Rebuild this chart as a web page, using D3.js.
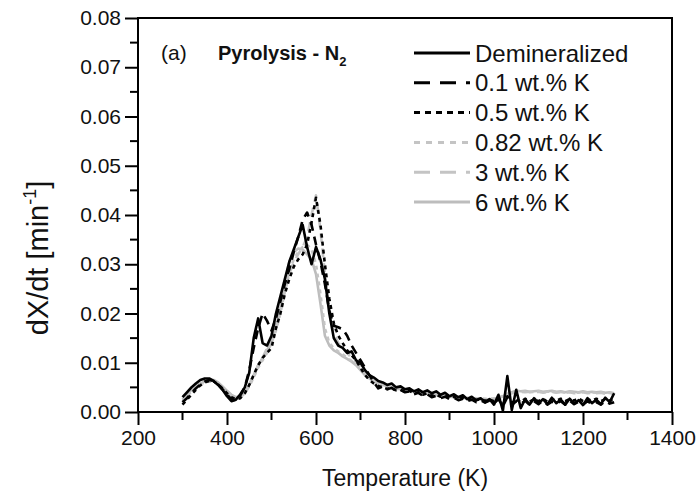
<!DOCTYPE html>
<html lang="en">
<head>
    <meta charset="UTF-8">
    <title>dX/dt - Pyrolysis N2</title>
    <script src="https://cdn.jsdelivr.net/npm/d3@7"></script>
    <style>
        body { margin: 0; background: #fff; }
        svg { display: block; font-family: "Liberation Sans", Arial, sans-serif; }
    </style>
</head>
<body>
    <svg width="697" height="502"></svg>
    <script>
        // temperature grid (K)
        var temps = [300, 310, 320, 330, 340, 350, 360, 370, 380, 390, 400, 410, 420, 430, 440, 450, 460, 470, 480, 490,
            500, 510, 520, 530, 540, 550, 560, 570, 580, 590, 600, 610, 620, 630, 640, 650, 660, 670, 680, 690,
            700, 710, 720, 730, 740, 750, 760, 770, 780, 790, 800, 810, 820, 830, 840, 850, 860, 870, 880, 890,
            900, 910, 920, 930, 940, 950, 960, 970, 980, 990, 1000, 1010, 1020, 1030, 1040, 1050, 1060, 1070, 1080, 1090,
            1100, 1110, 1120, 1130, 1140, 1150, 1160, 1170, 1180, 1190, 1200, 1210, 1220, 1230, 1240, 1250, 1260, 1270];

        // dX/dt values, in 1e-3 min^-1
        var demineralized = [3.0, 4.0, 5.0, 5.8, 6.5, 6.8, 6.8, 6.3, 5.5, 4.5, 3.2, 2.2, 2.5, 3.6, 5.0, 8.0, 15.0, 19.0, 14.0, 13.5,
            15.5, 20.0, 23.5, 27.0, 30.5, 33.0, 35.5, 38.0, 33.5, 30.0, 33.5, 31.0, 27.0, 20.0, 15.0, 13.5, 13.0, 12.0, 12.3, 10.5,
            10.0, 8.5, 7.5, 7.0, 6.3, 6.0, 5.5, 5.8, 5.0, 5.2, 4.6, 4.8, 4.2, 4.6, 4.0, 4.4, 3.8, 4.2, 3.5, 3.9,
            3.2, 3.6, 3.0, 3.4, 2.6, 3.1, 2.4, 2.8, 2.0, 2.6, 1.5, 3.5, 0.3, 7.3, 0.4, 4.5, 0.8, 2.6, 1.5, 2.8,
            1.8, 2.6, 1.6, 2.9, 1.8, 2.5, 1.5, 2.7, 1.7, 2.4, 1.4, 2.8, 1.8, 2.5, 1.6, 2.9, 2.0, 3.8];
        var k01 = [2.0, 2.8, 3.8, 4.8, 5.6, 6.2, 6.5, 6.3, 5.6, 4.6, 3.5, 2.6, 2.4, 3.4, 5.0, 8.5, 13.0, 17.0, 20.0, 18.5,
            16.5, 19.0, 22.5, 26.0, 29.0, 32.5, 35.5, 39.0, 40.5, 38.0, 34.0, 30.5, 26.0, 20.5, 17.5, 17.2, 16.8, 15.5, 13.5, 12.0,
            10.5, 9.0, 7.5, 6.0, 4.8, 5.2, 4.6, 4.9, 4.3, 4.5, 4.0, 4.2, 3.6, 3.9, 3.3, 3.6, 3.0, 3.3, 2.8, 3.1,
            2.6, 2.9, 2.4, 2.7, 2.2, 2.5, 2.0, 2.4, 1.9, 2.3, 1.8, 2.6, 1.2, 3.0, 1.4, 2.2, 1.6, 2.3, 1.5, 2.2,
            1.6, 2.3, 1.5, 2.1, 1.7, 2.2, 1.5, 2.3, 1.6, 2.1, 1.5, 2.2, 1.6, 2.0, 1.5, 2.2, 1.7, 2.0];
        var k05 = [1.5, 2.5, 3.5, 4.5, 5.4, 6.0, 6.3, 6.2, 5.6, 4.8, 3.8, 3.0, 2.6, 2.8, 3.8, 5.5, 7.5, 9.5, 11.0, 12.0,
            13.0, 17.0, 20.0, 24.0, 27.0, 29.5, 31.0, 32.0, 34.0, 38.5, 43.5, 38.0, 30.0, 23.0, 18.0, 15.5, 14.0, 12.5, 11.5, 10.5,
            9.0, 7.5, 6.5, 5.8, 5.3, 5.0, 4.7, 4.8, 4.4, 4.5, 4.1, 4.3, 3.8, 4.0, 3.5, 3.8, 3.3, 3.5, 3.1, 3.3,
            2.9, 3.1, 2.7, 2.9, 2.5, 2.8, 2.4, 2.6, 2.3, 2.5, 2.2, 2.8, 1.6, 3.2, 1.8, 2.6, 2.0, 2.7, 2.1, 2.6,
            2.2, 2.7, 2.1, 2.6, 2.3, 2.7, 2.2, 2.6, 2.3, 2.8, 2.2, 2.6, 2.3, 2.7, 2.2, 2.6, 2.3, 2.5];
        var k082 = [2.2, 3.2, 4.2, 5.0, 5.6, 6.0, 6.2, 6.1, 5.7, 5.0, 4.2, 3.4, 2.9, 3.0, 3.8, 5.2, 7.0, 9.0, 10.5, 12.0,
            14.0, 16.5, 20.0, 24.5, 28.5, 31.0, 32.5, 33.5, 34.0, 33.0, 30.0, 24.0, 17.0, 14.0, 13.0, 12.3, 11.7, 11.0, 10.4, 9.7,
            8.8, 7.8, 7.0, 6.4, 6.0, 5.6, 5.4, 5.1, 4.9, 4.7, 4.6, 4.4, 4.3, 4.1, 4.0, 3.9, 3.7, 3.6, 3.5, 3.4,
            3.3, 3.2, 3.1, 3.0, 2.9, 2.9, 2.8, 2.8, 2.7, 2.7, 2.8, 3.0, 3.3, 3.7, 4.0, 4.2, 4.1, 4.2, 4.0, 4.1,
            4.2, 4.0, 4.1, 4.2, 4.0, 4.1, 3.9, 4.1, 4.0, 3.9, 4.1, 3.9, 4.0, 3.9, 4.0, 3.8, 3.9, 3.7];
        var k3 = [2.0, 3.0, 4.0, 5.0, 5.8, 6.3, 6.5, 6.3, 5.8, 5.0, 4.0, 3.0, 2.6, 3.0, 4.0, 5.5, 7.5, 9.5, 11.0, 13.0,
            15.0, 18.0, 21.0, 24.5, 28.0, 30.5, 32.0, 33.5, 35.5, 40.0, 44.0, 37.0, 28.0, 21.0, 16.0, 14.0, 13.0, 12.0, 11.0, 10.0,
            9.0, 8.0, 7.0, 6.3, 5.8, 5.4, 5.1, 4.9, 4.7, 4.5, 4.4, 4.2, 4.1, 3.9, 3.8, 3.7, 3.5, 3.4, 3.3, 3.2,
            3.1, 3.0, 2.9, 2.9, 2.8, 2.7, 2.7, 2.6, 2.6, 2.6, 2.7, 2.9, 3.2, 3.5, 3.8, 4.0, 4.1, 4.0, 4.1, 4.0,
            4.1, 3.9, 4.0, 4.1, 3.9, 4.0, 3.9, 4.0, 3.8, 3.9, 4.0, 3.8, 3.9, 3.8, 3.9, 3.7, 3.8, 3.6];
        var k6 = [2.5, 3.5, 4.5, 5.3, 5.8, 6.2, 6.5, 6.5, 6.0, 5.2, 4.3, 3.5, 3.0, 3.2, 4.0, 5.5, 7.5, 9.5, 11.0, 12.5,
            14.5, 17.0, 21.0, 26.0, 30.5, 32.5, 33.2, 33.0, 32.0, 31.0, 28.0, 22.0, 15.5, 13.5, 12.5, 12.0, 11.3, 10.8, 10.2, 9.5,
            8.5, 7.5, 6.8, 6.2, 5.8, 5.5, 5.3, 5.0, 4.8, 4.6, 4.5, 4.3, 4.2, 4.0, 3.9, 3.8, 3.6, 3.5, 3.4, 3.3,
            3.2, 3.1, 3.0, 2.9, 2.8, 2.7, 2.7, 2.6, 2.6, 2.5, 2.6, 2.8, 3.2, 3.6, 4.0, 4.3, 4.2, 4.3, 4.1, 4.2,
            4.3, 4.1, 4.2, 4.3, 4.1, 4.2, 4.0, 4.2, 4.1, 4.0, 4.2, 4.0, 4.1, 4.0, 4.1, 3.9, 4.0, 3.8];

        var seriesNames = ["Demineralized", "0.1 wt.% K", "0.5 wt.% K", "0.82 wt.% K", "3 wt.% K", "6 wt.% K"];
        var seriesValues = [demineralized, k01, k05, k082, k3, k6];
        var seriesColors = ["#000", "#000", "#000", "#c4c4c4", "#c4c4c4", "#bdbdbd"];
        var seriesDash = [null, "9,6", "4,4", "4,4", "9,6", null];
        var legendDash = [null, "16,10", "6,5", "6,6", "16,10", null];

        var xTicks = [200, 400, 600, 800, 1000, 1200, 1400];
        var yTicks = [0, 0.01, 0.02, 0.03, 0.04, 0.05, 0.06, 0.07, 0.08];

        var margin = { left: 138, right: 25, top: 18, bottom: 90 };
        var W = 697, H = 502;
        var svg = d3.select("svg");

        var x = d3.scaleLinear().domain([200, 1400]).range([margin.left, W - margin.right]);
        var y = d3.scaleLinear().domain([0, 0.08]).range([H - margin.bottom, margin.top]);

        // minor ticks
        var g = svg.append("g");
        g.selectAll(".xminor").data(d3.range(300, 1400, 200)).enter().append("line")
            .attr("x1", function (d) { return x(d); }).attr("x2", function (d) { return x(d); })
            .attr("y1", y(0)).attr("y2", y(0) + 8)
            .attr("stroke", "#000").attr("stroke-width", 2);
        g.selectAll(".yminor").data(d3.range(0.005, 0.08, 0.01)).enter().append("line")
            .attr("x1", x(200) - 8).attr("x2", x(200))
            .attr("y1", function (d) { return y(d); }).attr("y2", function (d) { return y(d); })
            .attr("stroke", "#000").attr("stroke-width", 2);

        var xAxis = svg.append("g")
            .attr("transform", "translate(0," + y(0) + ")")
            .call(d3.axisBottom(x).tickValues(xTicks).tickSize(13).tickPadding(5).tickFormat(d3.format("d")));
        var yAxis = svg.append("g")
            .attr("transform", "translate(" + x(200) + ",0)")
            .call(d3.axisLeft(y).tickValues(yTicks).tickSize(13).tickPadding(4).tickFormat(d3.format(".2f")));
        [xAxis, yAxis].forEach(function (a) {
            a.select(".domain").remove();
            a.selectAll("line").attr("stroke", "#000").attr("stroke-width", 2);
            a.selectAll("text").attr("fill", "#111").style("font-size", "21px");
        });

        // frame
        svg.append("rect")
            .attr("x", x(200)).attr("y", y(0.08))
            .attr("width", x(1400) - x(200)).attr("height", y(0) - y(0.08))
            .attr("fill", "none").attr("stroke", "#000").attr("stroke-width", 2);

        // curves
        var line = d3.line()
            .x(function (d) { return x(d[0]); })
            .y(function (d) { return y(d[1] / 1000); });

        var order = [5, 4, 3, 2, 1, 0];
        order.forEach(function (i) {
            var pts = temps.map(function (t, j) { return [t, seriesValues[i][j]]; });
            svg.append("path")
                .datum(pts)
                .attr("d", line)
                .attr("fill", "none")
                .attr("stroke", seriesColors[i])
                .attr("stroke-width", 2.6)
                .attr("stroke-linejoin", "round")
                .attr("stroke-dasharray", seriesDash[i]);
        });

        // legend
        var leg = svg.append("g").attr("transform", "translate(414,53)");
        seriesNames.forEach(function (name, i) {
            var row = leg.append("g").attr("transform", "translate(0," + (i * 29.8) + ")");
            row.append("line")
                .attr("x1", 0).attr("x2", 56).attr("y1", 0).attr("y2", 0)
                .attr("stroke", seriesColors[i]).attr("stroke-width", 3)
                .attr("stroke-dasharray", legendDash[i]);
            row.append("text")
                .attr("x", 61).attr("y", 0).attr("dy", "0.36em")
                .style("font-size", "24px").attr("fill", "#111")
                .text(name);
        });

        // panel label and title
        svg.append("text").attr("x", 161).attr("y", 60).style("font-size", "21px").attr("fill", "#111").text("(a)");
        var title = svg.append("text").attr("x", 218).attr("y", 60)
            .style("font-size", "20px").style("font-weight", "bold").attr("fill", "#111");
        title.append("tspan").text("Pyrolysis - N");
        title.append("tspan").attr("dy", 6).style("font-size", "13px").text("2");

        // axis titles
        svg.append("text")
            .attr("x", (x(200) + x(1400)) / 2).attr("y", 486)
            .attr("text-anchor", "middle").style("font-size", "23px").attr("fill", "#111")
            .text("Temperature (K)");
        var yl = svg.append("text")
            .attr("transform", "translate(48,258) rotate(-90)")
            .attr("text-anchor", "middle").style("font-size", "29px").attr("fill", "#111");
        yl.append("tspan").text("dX/dt [min");
        yl.append("tspan").attr("dy", -12).style("font-size", "18px").text("-1");
        yl.append("tspan").attr("dy", 12).text("]");
    </script>
</body>
</html>
